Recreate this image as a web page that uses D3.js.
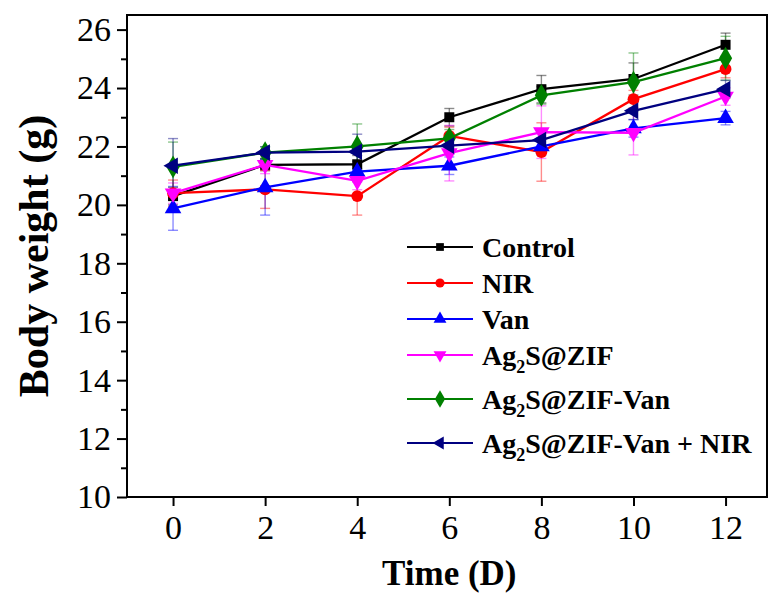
<!DOCTYPE html>
<html>
<head>
<meta charset="utf-8">
<script src="https://cdn.jsdelivr.net/npm/d3@7"></script>
<style>
  body { margin: 0; background: #fff; }
  svg { display: block; }
</style>
</head>
<body>
<div id="chart"></div>
<script>
// Body weight over time
const days = [0, 2, 4, 6, 8, 10, 12];
const seriesNames = ["Control", "NIR", "Van", "Ag2S@ZIF", "Ag2S@ZIF-Van", "Ag2S@ZIF-Van + NIR"];

const controlVals = [20.30, 21.37, 21.39, 23.00, 23.96, 24.31, 25.48];
const nirVals     = [20.40, 20.53, 20.30, 22.36, 21.81, 23.62, 24.65];
const vanVals     = [19.88, 20.60, 21.14, 21.34, 22.00, 22.62, 22.97];
const zifVals     = [20.40, 21.37, 20.82, 21.77, 22.49, 22.47, 23.71];
const zifVanVals  = [21.30, 21.79, 22.00, 22.28, 23.75, 24.20, 25.02];
const zifVanNirVals = [21.34, 21.79, 21.82, 22.03, 22.22, 23.22, 23.96];

const controlErr = [0.30, 0.20, 0.30, 0.30, 0.47, 0.55, 0.40];
const nirErr     = [0.45, 0.65, 0.65, 0.30, 1.00, 0.30, 0.30];
const vanErr     = [0.75, 0.95, 0.35, 0.30, 0.30, 0.30, 0.23];
const zifErr     = [0.35, 0.30, 0.30, 0.95, 0.90, 0.76, 0.30];
const zifVanErr  = [0.85, 0.20, 0.77, 0.30, 0.30, 1.00, 0.75];
const zifVanNirErr = [0.93, 0.20, 0.60, 0.30, 0.30, 0.30, 0.30];

const yTicks = [10, 12, 14, 16, 18, 20, 22, 24, 26];
const yMinorTicks = [11, 13, 15, 17, 19, 21, 23, 25];
const xTicks = [0, 2, 4, 6, 8, 10, 12];

const values = [controlVals, nirVals, vanVals, zifVals, zifVanVals, zifVanNirVals];
const errors = [controlErr, nirErr, vanErr, zifErr, zifVanErr, zifVanNirErr];
const colors = ["#000000", "#ff0000", "#0000ff", "#ff00ff", "#008000", "#000080"];
const shapes = [d3.symbolSquare, d3.symbolCircle, d3.symbolTriangle, d3.symbolTriangle, d3.symbolDiamond, d3.symbolTriangle];
const rotations = [0, 0, 0, 180, 0, -90];
const markerSizes = [100, 110, 120, 120, 150, 120];

const width = 769, height = 598;
const margin = { top: 15, right: 2, bottom: 101, left: 127 };
const serif = "'Liberation Serif', 'Times New Roman', serif";

const svg = d3.select("#chart").append("svg")
  .attr("width", width)
  .attr("height", height);

const x = d3.scaleLinear().domain([-1, 12.9]).range([margin.left, width - margin.right]);
const y = d3.scaleLinear().domain([10, 26.5]).range([height - margin.bottom, margin.top]);

// Error bars first, lighter
values.forEach((vals, s) => {
  const g = svg.append("g")
    .attr("stroke", colors[s])
    .attr("stroke-opacity", 0.45)
    .attr("stroke-width", 1.4)
    .attr("fill", "none");
  vals.forEach((v, i) => {
    const cx = x(days[i]);
    const top = y(v + errors[s][i]);
    const bot = y(v - errors[s][i]);
    g.append("line").attr("x1", cx).attr("x2", cx).attr("y1", top).attr("y2", bot);
    g.append("line").attr("x1", cx - 5).attr("x2", cx + 5).attr("y1", top).attr("y2", top);
    g.append("line").attr("x1", cx - 5).attr("x2", cx + 5).attr("y1", bot).attr("y2", bot);
  });
});

// Lines and markers
const line = d3.line()
  .x((d, i) => x(days[i]))
  .y(d => y(d));

values.forEach((vals, s) => {
  svg.append("path")
    .datum(vals)
    .attr("fill", "none")
    .attr("stroke", colors[s])
    .attr("stroke-width", 2.3)
    .attr("d", line);

  const sym = d3.symbol().type(shapes[s]).size(markerSizes[s]);
  svg.append("g").selectAll("path")
    .data(vals)
    .join("path")
    .attr("d", sym)
    .attr("fill", colors[s])
    .attr("transform", (d, i) => `translate(${x(days[i])},${y(d)}) rotate(${rotations[s]})`);
});

// Frame
svg.append("rect")
  .attr("x", margin.left)
  .attr("y", margin.top)
  .attr("width", width - margin.right - margin.left)
  .attr("height", height - margin.bottom - margin.top)
  .attr("fill", "none")
  .attr("stroke", "#000")
  .attr("stroke-width", 2);

// Y axis
const yAxis = svg.append("g")
  .attr("transform", `translate(${margin.left},0)`)
  .call(d3.axisLeft(y).tickValues(yTicks).tickSize(10).tickSizeOuter(0).tickPadding(6));
yAxis.select(".domain").remove();
yAxis.selectAll("line").attr("stroke-width", 2);
yAxis.selectAll("text")
  .style("font-family", serif)
  .style("font-size", "34px")
  .attr("fill", "#000");

const yMinor = svg.append("g")
  .attr("transform", `translate(${margin.left},0)`)
  .call(d3.axisLeft(y).tickValues(yMinorTicks).tickSize(6).tickFormat(""));
yMinor.select(".domain").remove();
yMinor.selectAll("line").attr("stroke-width", 2);

// X axis
const xAxis = svg.append("g")
  .attr("transform", `translate(0,${height - margin.bottom})`)
  .call(d3.axisBottom(x).tickValues(xTicks).tickSize(9).tickSizeOuter(0).tickPadding(9));
xAxis.select(".domain").remove();
xAxis.selectAll("line").attr("stroke-width", 2);
xAxis.selectAll("text")
  .style("font-family", serif)
  .style("font-size", "34px")
  .attr("fill", "#000");

// Axis titles
svg.append("text")
  .attr("x", x(6))
  .attr("y", 585)
  .attr("text-anchor", "middle")
  .style("font-family", serif)
  .style("font-size", "35px")
  .style("font-weight", "bold")
  .text("Time (D)");

svg.append("text")
  .attr("transform", `translate(48,${(margin.top + height - margin.bottom) / 2}) rotate(-90)`)
  .attr("text-anchor", "middle")
  .style("font-family", serif)
  .style("font-size", "42px")
  .style("font-weight", "bold")
  .text("Body weight (g)");

// Legend
const legend = svg.append("g");
seriesNames.forEach((name, i) => {
  const ly = 247 + i * 36 + Math.max(0, i - 3) * 8;
  const row = legend.append("g").attr("transform", `translate(407,${ly})`);
  row.append("line")
    .attr("x1", 0).attr("x2", 66)
    .attr("stroke", colors[i])
    .attr("stroke-width", 2);
  row.append("path")
    .attr("d", d3.symbol().type(shapes[i]).size(markerSizes[i] * 0.6))
    .attr("fill", colors[i])
    .attr("transform", `translate(33,0) rotate(${rotations[i]})`);
  const t = row.append("text")
    .attr("x", 75)
    .attr("y", 10)
    .style("font-family", serif)
    .style("font-size", "28px")
    .style("font-weight", "bold");
  const m = name.match(/^Ag2(.*)$/);
  if (m) {
    t.append("tspan").text("Ag");
    t.append("tspan").attr("dy", 8).style("font-size", "18px").text("2");
    t.append("tspan").attr("dy", -8).text(m[1]);
  } else {
    t.text(name);
  }
});
</script>
</body>
</html>
